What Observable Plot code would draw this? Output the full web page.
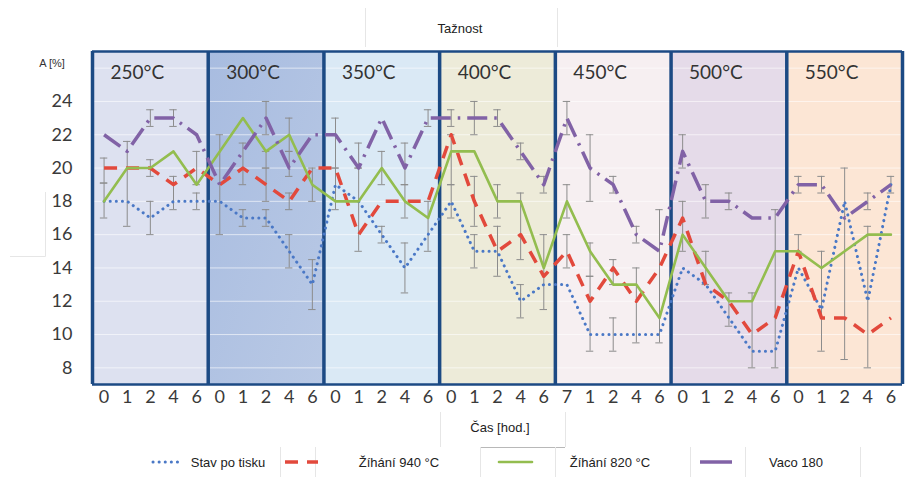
<!DOCTYPE html>
<html>
<head>
<meta charset="utf-8">
<script src="https://cdn.jsdelivr.net/npm/d3@7"></script>
<script src="https://cdn.jsdelivr.net/npm/@observablehq/plot@0.6"></script>
<style>
  body { margin: 0; background: #fff; }
  #chart { width: 905px; height: 477px; }
</style>
</head>
<body>
<div id="chart"></div>
<script>
// Annealing temperature groups, five measurement times each
const panels = ["250°C", "300°C", "350°C", "400°C", "450°C", "500°C", "550°C"];
const panelFills = ["#dde1f0", "url(#bg300)", "#dae9f5", "#edebd9", "#f6eff1", "#e5dbe9", "#fce6d5"];

// Time labels along the x axis (hours), one per slot
const hours = [
  "0", "1", "2", "4", "6",
  "0", "1", "2", "4", "6",
  "0", "1", "2", "4", "6",
  "0", "1", "2", "4", "6",
  "7", "1", "2", "4", "6",
  "0", "1", "2", "4", "6",
  "0", "1", "2", "4", "6"
];

// Elongation A [%] per slot for each material state
const stavPoTisku = [
  18, 18, 17, 18, 18,
  18, 17, 17, 15, 13,
  19, 18, 16, 14, 16,
  18, 15, 15, 12, 13,
  13, 10, 10, 10, 10,
  14, 13, 11, 9, 9,
  14, 11.5, 18, 12, 19
];
const zihani940 = [
  20, 20, 20, 19, 20,
  19, 20, 19, 18, 20,
  20, 16, 18, 18, 18,
  22, 18, 15, 16, 13.5,
  15, 12, 14, 12, 14,
  17, 13, 12, 10, 11,
  15, 11, 11, 10, 11
];
const zihani820 = [
  18, 20, 20, 21, 19,
  21, 23, 21, 22, 19,
  18, 18, 20, 18, 17,
  21, 21, 18, 18, 14,
  18, 15, 13, 13, 11,
  16, 14, 12, 12, 15,
  15, 14, 15, 16, 16
];
const vaco180 = [
  22, 21, 23, 23, 22,
  19, 21, 23, 20, 22,
  22, 20, 23, 20, 23,
  23, 23, 23, 21, 19,
  23, 20, 19, 16, 15,
  21, 18, 18, 17, 17,
  19, 19, 17, 18, 19
];

// Error bars: slot, lower and upper bound
const errSlot = [
  0, 0, 1, 2, 2, 2, 3, 3, 4, 4,
  5, 6, 6, 7, 7, 7, 7, 8, 8, 8, 8, 9, 9,
  10, 10, 11, 11, 12, 12, 13, 13, 13, 14, 14,
  15, 15, 15, 16, 16, 16, 17, 17, 17, 18, 18, 18, 19, 19,
  20, 20, 20, 21, 21, 21, 22, 22, 22, 23, 23, 24,
  25, 25, 26, 26, 27, 27, 28, 29,
  30, 30, 31, 31, 32, 33, 33, 34
];
const errLow = [
  19.1, 17, 16.5, 22.5, 19.5, 16, 22.5, 17.5, 19, 17.5,
  16, 19, 16.5, 22, 20, 18, 16.5, 21, 19.5, 17.5, 14, 18, 11.5,
  20, 17.5, 20, 15, 19, 15.5, 19, 17, 12.5, 22.5, 15,
  22.5, 19, 17, 22, 16.5, 14, 22.5, 17, 13.5, 20.5, 14.5, 11, 18.5, 11.5,
  22, 17, 14, 18, 13.5, 9, 18.5, 13, 9, 15.5, 9.5, 9.5,
  20, 15, 17, 13, 17.5, 10.5, 8, 8,
  18.5, 15, 18.5, 9, 8.5, 17.5, 8, 18.5
];
const errHigh = [
  20.6, 19.1, 21.6, 23.5, 20.5, 18, 23.5, 19.5, 21, 18.5,
  22, 21.5, 17.5, 24, 21, 20, 17.5, 23, 21, 18.5, 16, 20, 14.5,
  23, 20, 21.5, 20, 21, 16.5, 21.5, 19, 15.5, 23.5, 18,
  23.5, 22, 19, 24, 19.5, 16, 23.5, 19, 16.5, 21.5, 18.5, 13, 19.5, 16,
  24, 19, 16, 22, 15.5, 13.5, 19.5, 14.5, 11, 16.5, 14, 17.5,
  22, 18, 19, 15, 18.5, 12.5, 12.5, 17.5,
  19.5, 16, 19.5, 15, 20, 18.5, 16.5, 19.5
];

const yTicks = [8, 10, 12, 14, 16, 18, 20, 22, 24];

// Series names and drawing styles
const seriesNames = ["Stav po tisku", "Žíhání 940 °C", "Žíhání 820 °C", "Vaco 180"];
const seriesValues = [stavPoTisku, zihani940, zihani820, vaco180];
const seriesStyles = [
  {stroke: "#4a78c6", strokeWidth: 3, strokeDasharray: "0.1 6", strokeLinecap: "round"},
  {stroke: "#e2493c", strokeWidth: 3.5, strokeDasharray: "13 9", strokeLinecap: "butt"},
  {stroke: "#93bd4f", strokeWidth: 2.6, strokeDasharray: null, strokeLinecap: "round"},
  {stroke: "#8162a6", strokeWidth: 3.5, strokeDasharray: "20 7 2.5 7", strokeLinecap: "butt"}
];

const panelTable = panels.map((name, i) => ({name, start: i * 5, fill: panelFills[i]}));
const errTable = errSlot.map((s, i) => ({slot: s, low: errLow[i], high: errHigh[i]}));
const navy = "#1c4a84";

const seriesMarks = seriesValues.map((vals, k) =>
  Plot.line(vals.map((v, i) => ({slot: i, value: v})), {
    x: "slot", y: "value",
    stroke: seriesStyles[k].stroke,
    strokeWidth: seriesStyles[k].strokeWidth,
    strokeDasharray: seriesStyles[k].strokeDasharray,
    strokeLinecap: seriesStyles[k].strokeLinecap,
    strokeLinejoin: "round"
  })
);

const chart = Plot.plot({
  width: 905,
  height: 477,
  marginTop: 51,
  marginBottom: 93,
  marginLeft: 92,
  marginRight: 3,
  style: {fontFamily: "Lato, 'Open Sans', sans-serif", color: "#3a3a3a", background: "transparent"},
  x: {type: "linear", domain: [-0.5, 34.5]},
  y: {domain: [7, 27]},
  color: {type: "identity"},
  marks: [
    // temperature panels
    Plot.rect(panelTable, {
      x1: d => d.start - 0.5, x2: d => d.start + 4.5,
      y1: 7, y2: 27, fill: "fill"
    }),
    Plot.ruleY([8, 10, 12, 14, 16, 18, 20, 22, 24, 26], {stroke: "#ffffff", strokeOpacity: 0.6, strokeWidth: 1}),
    // error bars
    Plot.ruleX(errTable, {x: "slot", y1: "low", y2: "high", stroke: "#8c8c8c", strokeWidth: 1}),
    Plot.ruleY(errTable, {y: "low", x1: d => d.slot - 0.16, x2: d => d.slot + 0.16, stroke: "#8c8c8c", strokeWidth: 1}),
    Plot.ruleY(errTable, {y: "high", x1: d => d.slot - 0.16, x2: d => d.slot + 0.16, stroke: "#8c8c8c", strokeWidth: 1}),
    // panel borders
    Plot.ruleX(d3.range(0, 36, 5), {x: d => d - 0.5, y1: 7, y2: 27, stroke: navy, strokeWidth: 3.5}),
    Plot.ruleY([7, 27], {stroke: navy, strokeWidth: 2.5}),
    ...seriesMarks,
    Plot.text(panelTable, {
      x: d => d.start - 0.5, y: 25.7, text: "name",
      textAnchor: "start", dx: 18, fontSize: 19, fill: "#333"
    }),
    Plot.axisX({
      ticks: d3.range(35), tickFormat: i => hours[i],
      tickSize: 0, tickPadding: 6, fontSize: 18, label: null
    }),
    Plot.axisY({
      ticks: yTicks, tickSize: 0, tickPadding: 20, fontSize: 18, label: null
    })
  ]
});

document.getElementById("chart").append(chart);

// Gradient fill for the 300 °C panel, title, axis captions and legend
const svg = d3.select(chart);
const grad = svg.insert("defs", ":first-child").append("linearGradient")
  .attr("id", "bg300").attr("x1", 0).attr("x2", 1).attr("y1", 0).attr("y2", 1);
grad.append("stop").attr("offset", "0%").attr("stop-color", "#a8bce0");
grad.append("stop").attr("offset", "100%").attr("stop-color", "#b9c9e5");

const sans = "'Liberation Sans', Arial, sans-serif";

// faint text-box outlines
const boxes = svg.append("g").attr("fill", "none").attr("stroke", "#e6e6e6").attr("stroke-width", 1);
boxes.append("path").attr("d", "M365.5,8 V47 M557.5,8 V47");
boxes.append("path").attr("d", "M45.5,192 V256.5 H10");
boxes.append("path").attr("d", "M440.5,412 V447 M565.5,412 V447");
boxes.append("path").attr("d", "M481,447.5 H565").attr("stroke", "#b8b8b8");
boxes.append("path").attr("d", "M280.5,447 V477 M315.5,447 V477 M480.5,447 V477 M555.5,447 V477 M690.5,447 V477 M745.5,447 V477 M860.5,447 V477");

svg.append("text").attr("x", 460).attr("y", 33).attr("text-anchor", "middle")
  .attr("font-family", sans).attr("font-size", 13).attr("fill", "#222").text("Tažnost");

svg.append("text").attr("x", 52).attr("y", 67).attr("text-anchor", "middle")
  .attr("font-family", sans).attr("font-size", 11).attr("fill", "#333").text("A [%]");

svg.append("text").attr("x", 500).attr("y", 432).attr("text-anchor", "middle")
  .attr("font-family", sans).attr("font-size", 13).attr("fill", "#222").text("Čas [hod.]");

const legendItems = [
  {sample: [153, 182], textX: 228},
  {sample: [285, 318], textX: 399},
  {sample: [499, 532], textX: 610},
  {sample: [700, 732], textX: 796}
];
const legend = svg.append("g");
legendItems.forEach((item, k) => {
  const st = seriesStyles[k];
  legend.append("line")
    .attr("x1", item.sample[0]).attr("x2", item.sample[1])
    .attr("y1", 462).attr("y2", 462)
    .attr("stroke", st.stroke).attr("stroke-width", st.strokeWidth)
    .attr("stroke-dasharray", k === 3 ? null : st.strokeDasharray)
    .attr("stroke-linecap", st.strokeLinecap);
  legend.append("text")
    .attr("x", item.textX).attr("y", 466.5).attr("text-anchor", "middle")
    .attr("font-family", sans).attr("font-size", 13).attr("fill", "#222")
    .text(seriesNames[k]);
});
</script>
</body>
</html>
